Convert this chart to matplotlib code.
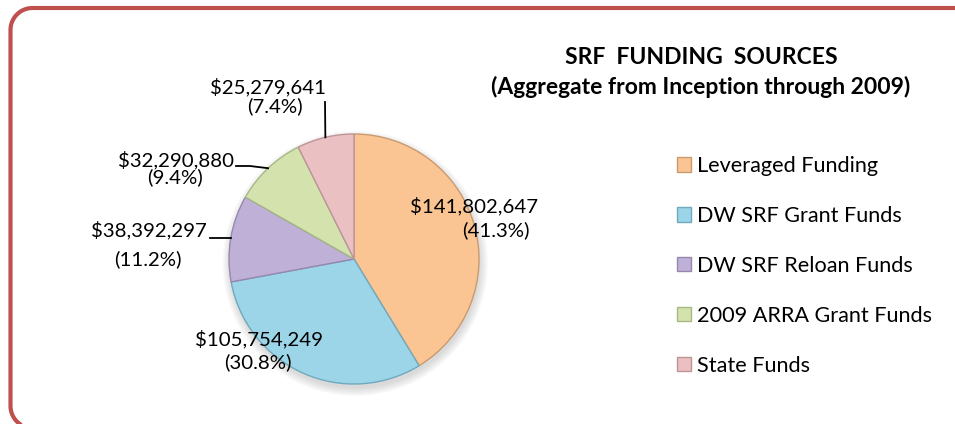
import matplotlib
matplotlib.use("Agg")
import matplotlib.pyplot as plt
from matplotlib.patches import Circle
import numpy as np

plt.rcParams['font.family'] = ['Lato', 'DejaVu Sans']

# data
sources = ['Leveraged Funding', 'DW SRF Grant Funds', 'DW SRF Reloan Funds',
           '2009 ARRA Grant Funds', 'State Funds']
amounts = [141802647, 105754249, 38392297, 32290880, 25279641]
pct_labels = ['(41.3%)', '(30.8%)', '(11.2%)', '(9.4%)', '(7.4%)']
colors = ['#FAC593', '#9DD5E8', '#BFB0D8', '#D4E3AD', '#EBC0C3']
edges = ['#C99A6E', '#6FA9BD', '#9587AE', '#A6B884', '#BD9497']

W, H = 955, 424
fig = plt.figure(figsize=(W / 100, H / 100), dpi=100)

# background axes in pixel units (y down) for the red rounded frame
bg = fig.add_axes([0, 0, 1, 1])
bg.set_xlim(0, W)
bg.set_ylim(H, 0)
bg.axis('off')
left, top, bottom, rr = 10.5, 8.0, 428.0, 22.0
t1 = np.linspace(np.pi, 1.5 * np.pi, 30)      # top-left corner
t2 = np.linspace(0.5 * np.pi, np.pi, 30)      # bottom-left corner
fx = np.concatenate([[W + 10], left + rr + rr * np.cos(t1[::-1]),
                     left + rr + rr * np.cos(t2[::-1]), [W + 10]])
fy = np.concatenate([[top], top + rr + rr * np.sin(t1[::-1]),
                     bottom - rr + rr * np.sin(t2[::-1]), [bottom]])
bg.plot(fx, fy, color='#C0504D', linewidth=3, solid_capstyle='butt')

# pie axes: 1 data unit = R pixels, centre at (cx, cy) from top-left
R, cx, cy = 125, 354, 259
axw = 700
ax = fig.add_axes([0, 0, axw / W, 1])

# soft drop shadow under the pie
for k in range(6):
    ax.add_patch(Circle((0.01, -0.035), 1.0 + 0.012 * k, color='#808080',
                        alpha=0.05, lw=0, zorder=0))

wedges, _ = ax.pie(amounts, colors=colors, startangle=90, counterclock=False,
                   radius=1, wedgeprops=dict(linewidth=1.0))
for w, ec in zip(wedges, edges):
    w.set_edgecolor(ec)
    w.set_zorder(2)
ax.set_xlim(-cx / R, (axw - cx) / R)
ax.set_ylim(-(H - cy) / R, cy / R)
ax.axis('off')


def px(x, y):
    # pixel position (from top-left) -> pie data units
    return ((x - cx) / R, (cy - y) / R)


# label centres in pixels: value line, percent line
val_pos = [(474, 206), (259, 339), (149, 230), (176, 160), (268, 87)]
pct_pos = [(496, 230), (258, 362), (148, 259), (175, 177), (275, 106)]

for i in range(len(amounts)):
    ax.text(*px(*val_pos[i]), '${:,}'.format(amounts[i]), ha='center',
            va='center', fontsize=14.7, color='black', zorder=5)
    ax.text(*px(*pct_pos[i]), pct_labels[i], ha='center', va='center',
            fontsize=14.7, color='black', zorder=5)

# leader lines: from the wedge's mid-angle on the rim out to the label
leaders = {2: [(210, 238)],
           3: [(250, 166), (236, 166)],
           4: [(325, 102)]}
for i, pts in leaders.items():
    w = wedges[i]
    mid = np.deg2rad((w.theta1 + w.theta2) / 2)
    xs = [np.cos(mid)] + [px(*p)[0] for p in pts]
    ys = [np.sin(mid)] + [px(*p)[1] for p in pts]
    if i == 2:
        ys = [ys[0], ys[0]]
    ax.plot(xs, ys, color='black', linewidth=1.3, zorder=3)

# title
fig.text(701 / W, 1 - 57 / H, 'SRF  FUNDING  SOURCES', ha='center', va='center',
         fontsize=16.5, fontweight='bold')
fig.text(701 / W, 1 - 87 / H, '(Aggregate from Inception through 2009)',
         ha='center', va='center', fontsize=16.5, fontweight='bold')

# legend
fig.legend(wedges, sources, loc='upper left', bbox_to_anchor=(677 / W, 1 - 156 / H),
           frameon=False, fontsize=15.6, handlelength=0.65, handleheight=0.65,
           handletextpad=0.28, labelspacing=1.38, borderaxespad=0, borderpad=0)

fig.savefig('out.png', dpi=100)
